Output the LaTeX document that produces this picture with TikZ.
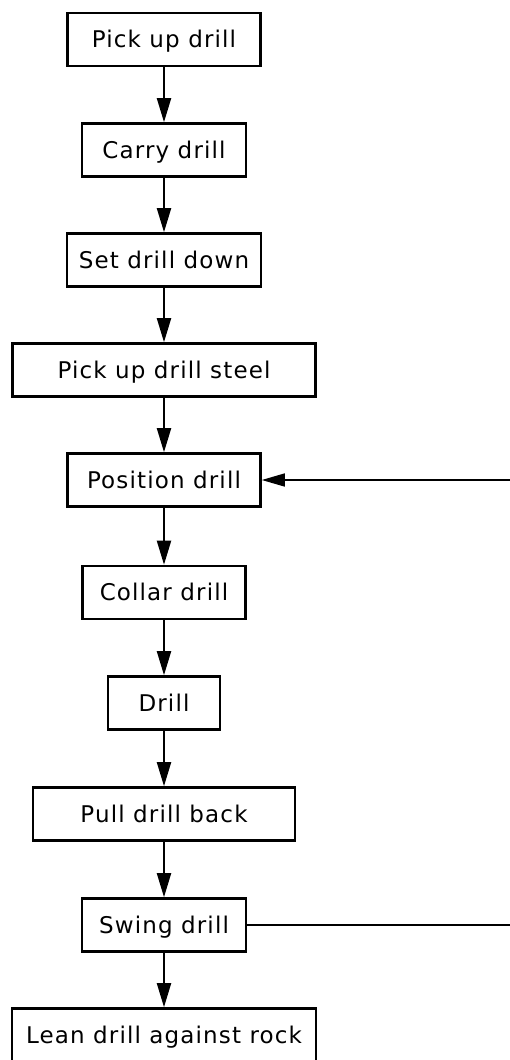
\documentclass[tikz,border=0pt]{standalone}
\usepackage{fontspec}
\setmainfont{DejaVu Sans}[LetterSpace=5]
\usetikzlibrary{arrows.meta}

\tikzset{
  stepbox/.style={draw, line width=2.6pt, minimum height=53pt, inner sep=0pt,
    font=\fontsize{23}{26}\selectfont, text height=16.8pt, text depth=0pt},
  flow/.style={line width=2pt, -{Triangle[length=24pt,width=14pt]}},
  loopline/.style={line width=1.6pt},
  looparrow/.style={line width=1.6pt, -{Triangle[length=23pt,width=13pt]}}
}

\begin{document}
\begin{tikzpicture}[x=1pt,y=-1pt]
  \useasboundingbox (0,0) rectangle (510,1060);
  \clip (0,0) rectangle (510,1060);

  % Drilling sequence, top to bottom
  \node[stepbox, minimum width=193pt] (pick)  at (164,39.5)  {Pick up drill};
  \node[stepbox, minimum width=164pt] (carry) at (164,150)   {Carry drill};
  \node[stepbox, minimum width=194pt] (set)   at (164,260)   {Set drill down};
  \node[stepbox, minimum width=303pt] (steel) at (164,370)   {Pick up drill steel};
  \node[stepbox, minimum width=193pt] (pos)   at (164,480)   {Position drill};
  \node[stepbox, minimum width=163pt] (collar) at (164,592.5) {Collar drill};
  \node[stepbox, minimum width=112pt] (drill) at (164,703)   {Drill};
  \node[stepbox, minimum width=262pt] (pull)  at (164,814)   {Pull drill back};
  \node[stepbox, minimum width=164pt] (swing) at (164,925)   {Swing drill};
  \node[stepbox, minimum width=304pt] (lean)  at (164,1035)  {Lean drill against rock};

  % Main flow
  \draw[flow] (pick)   -- (carry);
  \draw[flow] (carry)  -- (set);
  \draw[flow] (set)    -- (steel);
  \draw[flow] (steel)  -- (pos);
  \draw[flow] (pos)    -- (collar);
  \draw[flow] (collar) -- (drill);
  \draw[flow] (drill)  -- (pull);
  \draw[flow] (pull)   -- (swing);
  \draw[flow] (swing)  -- (lean);

  % Return path from swinging back to positioning
  \coordinate (retin)  at (512,480);
  \coordinate (retout) at (512,925);
  \draw[looparrow] (retin) -- (pos.east);
  \draw[loopline] (swing.east) -- (retout);
\end{tikzpicture}
\end{document}
